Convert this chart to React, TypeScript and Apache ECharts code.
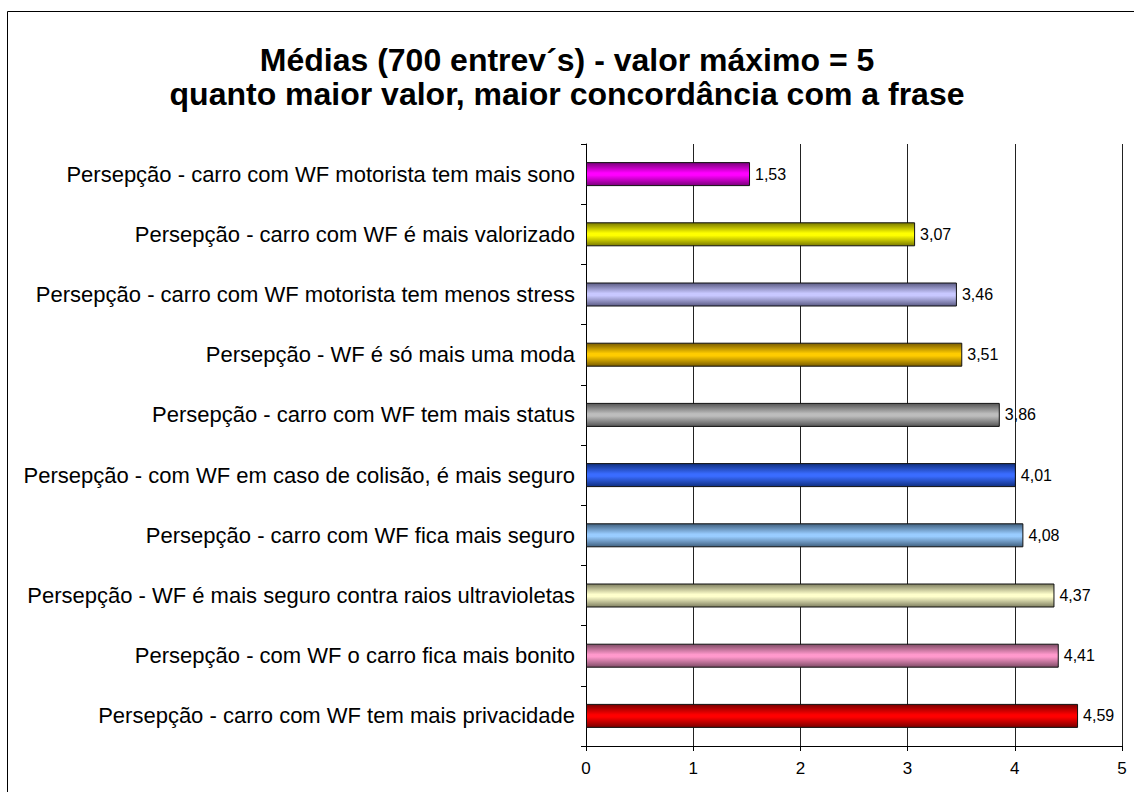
import React, { useEffect, useRef } from "react";
import * as echarts from "echarts";

const categories = [
  "Persepção - carro com WF motorista tem mais sono",
  "Persepção - carro com WF é mais valorizado",
  "Persepção - carro com WF motorista tem menos stress",
  "Persepção - WF é só mais uma moda",
  "Persepção - carro com WF tem mais status",
  "Persepção - com WF em caso de colisão, é mais seguro",
  "Persepção - carro com WF fica mais seguro",
  "Persepção - WF é mais seguro contra raios ultravioletas",
  "Persepção - com WF o carro fica mais bonito",
  "Persepção - carro com WF tem mais privacidade",
];
const values = [1.53, 3.07, 3.46, 3.51, 3.86, 4.01, 4.08, 4.37, 4.41, 4.59];
const barColors = [
  ["#7a007a", "#ff00ff"],
  ["#7a7a00", "#ffff00"],
  ["#5c5c85", "#c8c8ff"],
  ["#7a5c00", "#ffcc00"],
  ["#555555", "#bdbdbd"],
  ["#0f2f80", "#3a6cff"],
  ["#40607f", "#99ccff"],
  ["#7f7f60", "#ffffcc"],
  ["#7f4c66", "#ff99cc"],
  ["#7a0000", "#ff0000"],
];
const xTicks = [0, 1, 2, 3, 4, 5];
const titleLines = [
  "Médias (700 entrev´s) - valor máximo = 5",
  "quanto maior valor, maior concordância com a frase",
];

export default function App() {
  const ref = useRef<HTMLDivElement>(null);
  useEffect(() => {
    if (!ref.current) return;
    const chart = echarts.init(ref.current, null, { renderer: "svg" });
    const grad = (dark: string, light: string) =>
      new echarts.graphic.LinearGradient(0, 0, 0, 1, [
        { offset: 0, color: dark },
        { offset: 0.45, color: light },
        { offset: 0.55, color: light },
        { offset: 1, color: dark },
      ]);
    chart.setOption({
      animation: false,
      backgroundColor: "#ffffff",
      textStyle: { fontFamily: "Liberation Sans, Arial, sans-serif" },
      title: {
        text: titleLines.join("\n"),
        left: "center",
        top: 38,
        textStyle: {
          fontSize: 32,
          fontWeight: "bold",
          color: "#000",
          lineHeight: 34,
          fontFamily: "Liberation Sans, Arial, sans-serif",
        },
      },
      graphic: [
        {
          type: "rect",
          shape: { x: 7.5, y: 11.5, width: 1140, height: 800 },
          style: { fill: "none", stroke: "#000", lineWidth: 1 },
          silent: true,
          z: -1,
        },
      ],
      grid: { left: 586, right: 12, top: 144, bottom: 46 },
      xAxis: {
        type: "value",
        min: xTicks[0],
        max: xTicks[xTicks.length - 1],
        interval: 1,
        axisLine: { show: true, lineStyle: { color: "#000", width: 1 } },
        axisTick: { show: true, length: 5, lineStyle: { color: "#000" } },
        splitLine: { show: true, lineStyle: { color: "#222", width: 1 } },
        axisLabel: { fontSize: 17, color: "#000", margin: 14 },
      },
      yAxis: {
        type: "category",
        inverse: true,
        data: categories,
        axisLine: { show: true, lineStyle: { color: "#000", width: 1 } },
        axisTick: { show: true, length: 5, lineStyle: { color: "#000" } },
        axisLabel: { fontSize: 22, color: "#000", margin: 11 },
      },
      series: [
        {
          type: "bar",
          barWidth: 24,
          data: values.map((v, i) => ({
            value: v,
            itemStyle: {
              color: grad(barColors[i][0], barColors[i][1]),
              borderColor: "#111",
              borderWidth: 1,
            },
          })),
          label: {
            show: true,
            position: "right",
            distance: 5,
            fontSize: 16,
            color: "#000",
            formatter: (p: any) => p.value.toFixed(2).replace(".", ","),
          },
        },
      ],
    });
    return () => chart.dispose();
  }, []);
  return (
    <div
      ref={ref}
      style={{ position: "fixed", left: 0, top: 0, width: 1134, height: 792 }}
    />
  );
}
